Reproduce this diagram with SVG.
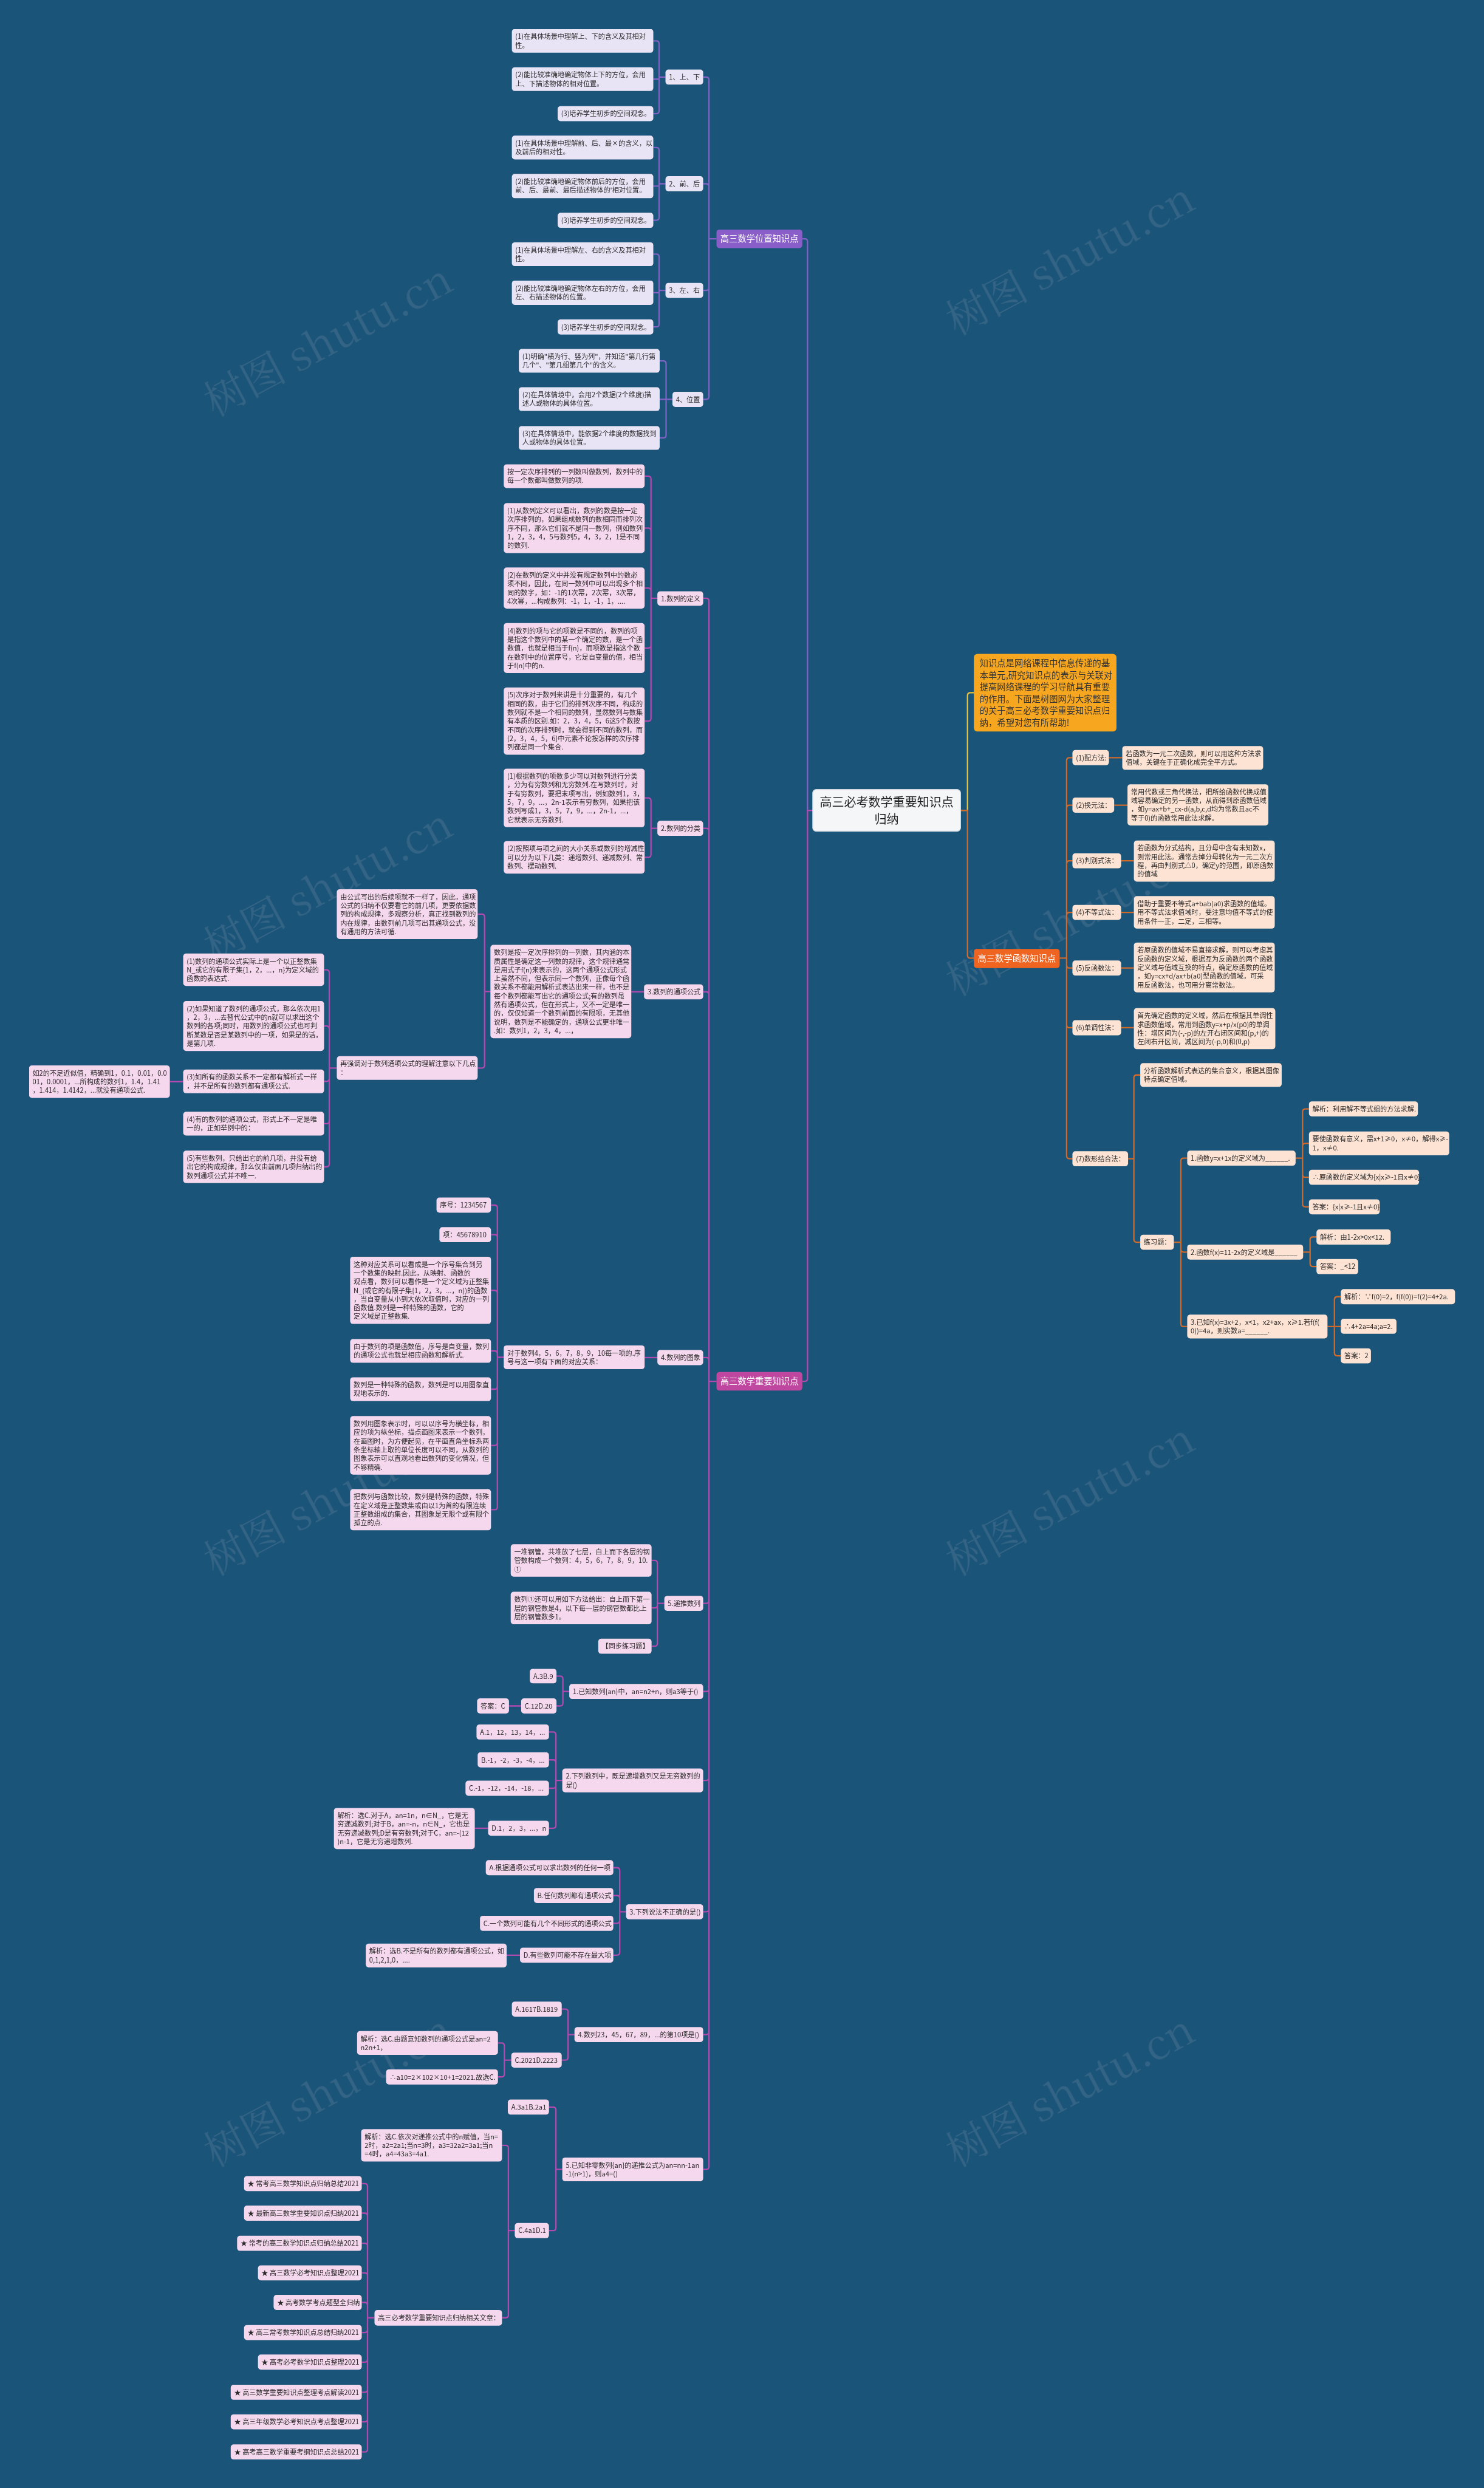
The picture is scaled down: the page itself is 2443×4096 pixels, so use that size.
<svg xmlns="http://www.w3.org/2000/svg" width="2443" height="4096" viewBox="0 0 2443 4096">
<style>
.t{font-family:"Noto Sans CJK SC","Noto Sans",sans-serif;font-size:11.7px;fill:#2a2a2a}
.lp{fill:#e8e3f5}
.lz{fill:#f6d8ee}
.lf{fill:#fde3d4}
.cp{fill:none;stroke:#7f63c4;stroke-width:2.4}
.cz{fill:none;stroke:#b04ab0;stroke-width:2.4}
.cf{fill:none;stroke:#cf6a2c;stroke-width:2.4}
.cy{fill:none;stroke:#e9c23a;stroke-width:2.4}
.bt{font-family:"Noto Sans CJK SC","Noto Sans",sans-serif;font-size:15px;fill:#ffffff;text-anchor:middle}
.wm{font-family:"Noto Serif CJK SC","Noto Sans CJK SC","DejaVu Serif",serif;font-size:72px;fill:#b8bcc4}
</style>
<rect x="0" y="0" width="2443" height="4096" fill="#1b5479"/>
<g transform="scale(0.9543)">
<g id="watermark" opacity="0.16">
<text class="wm" transform="translate(370 720) rotate(-28)">树图 shutu.cn</text>
<text class="wm" transform="translate(1650 580) rotate(-28)">树图 shutu.cn</text>
<text class="wm" transform="translate(370 1660) rotate(-28)">树图 shutu.cn</text>
<text class="wm" transform="translate(1650 1720) rotate(-28)">树图 shutu.cn</text>
<text class="wm" transform="translate(370 2720) rotate(-28)">树图 shutu.cn</text>
<text class="wm" transform="translate(1650 2720) rotate(-28)">树图 shutu.cn</text>
<text class="wm" transform="translate(370 3740) rotate(-28)">树图 shutu.cn</text>
<text class="wm" transform="translate(1650 3740) rotate(-28)">树图 shutu.cn</text>
</g>
<g id="connectors">
<path class="cp" d="M1148 133H1137M1137 133V75.5Q1137 70.5 1132 70.5H1127M1137 133V136.5H1127M1137 133V191Q1137 196 1132 196H1127"/>
<path class="cp" d="M1148 317H1137M1137 317V259.5Q1137 254.5 1132 254.5H1127M1137 317V321H1127M1137 317V375Q1137 380 1132 380H1127"/>
<path class="cp" d="M1148 501H1137M1137 501V443.5Q1137 438.5 1132 438.5H1127M1137 501V505H1127M1137 501V559Q1137 564 1132 564H1127"/>
<path class="cp" d="M1160 689H1149M1149 689V627.5Q1149 622.5 1144 622.5H1138M1149 689H1138M1149 689V750.5Q1149 755.5 1144 755.5H1138"/>
<path class="cp" d="M1236 412H1223M1223 412V138Q1223 133 1218 133H1213M1223 412V322Q1223 317 1218 317H1213M1223 412V496Q1223 501 1218 501H1213M1223 412V684Q1223 689 1218 689H1213"/>
<path class="cp" d="M1402 1398H1393V417Q1393 412 1388 412H1384"/>
<path class="cz" d="M1402 1398H1393V2378Q1393 2383 1388 2383H1384"/>
<path class="cz" d="M1236 2383H1223M1223 2383V1037Q1223 1032 1218 1032H1213M1223 2383V1434Q1223 1429 1218 1429H1213M1223 2383V1716Q1223 1711 1218 1711H1213M1223 2383V2347Q1223 2342 1218 2342H1213M1223 2383V2761Q1223 2766 1218 2766H1213M1223 2383V2913Q1223 2918 1218 2918H1213M1223 2383V3066.5Q1223 3071.5 1218 3071.5H1213M1223 2383V3293Q1223 3298 1218 3298H1213M1223 2383V3505Q1223 3510 1218 3510H1213M1223 2383V3737.5Q1223 3742.5 1218 3742.5H1213"/>
<path class="cz" d="M1134 1032H1123M1123 1032V826.5Q1123 821.5 1118 821.5H1112M1123 1032V916Q1123 911 1118 911H1112M1123 1032V1019.5Q1123 1014.5 1118 1014.5H1112M1123 1032V1113Q1123 1118 1118 1118H1112M1123 1032V1239Q1123 1244 1118 1244H1112"/>
<path class="cz" d="M1134 1429H1123M1123 1429V1381.5Q1123 1376.5 1118 1376.5H1112M1123 1429V1474Q1123 1479 1118 1479H1112"/>
<path class="cz" d="M1111 1711H1089"/>
<path class="cz" d="M846 1710.5H836M836 1710.5V1582Q836 1577 831 1577H824M836 1710.5V1837.5Q836 1842.5 831 1842.5H824"/>
<path class="cz" d="M581 1842.5H568M568 1842.5V1678Q568 1673 563 1673H559M568 1842.5V1775Q568 1770 563 1770H559M568 1842.5V1860.5Q568 1865.5 563 1865.5H559M568 1842.5V1933.5Q568 1938.5 563 1938.5H559M568 1842.5V2008Q568 2013 563 2013H559"/>
<path class="cz" d="M316 1866H293"/>
<path class="cz" d="M1134 2342H1112"/>
<path class="cz" d="M869 2341.5H858M858 2341.5V2084Q858 2079 853 2079H847M858 2341.5V2135Q858 2130 853 2130H847M858 2341.5V2231Q858 2226 853 2226H847M858 2341.5V2335.5Q858 2330.5 853 2330.5H847M858 2341.5V2391.5Q858 2396.5 853 2396.5H847M858 2341.5V2488.5Q858 2493.5 853 2493.5H847M858 2341.5V2599.5Q858 2604.5 853 2604.5H847"/>
<path class="cz" d="M1146 2766H1134M1134 2766V2697Q1134 2692 1129 2692H1124M1134 2766V2769Q1134 2774 1129 2774H1124M1134 2766V2835Q1134 2840 1129 2840H1124"/>
<path class="cz" d="M982 2918H971M971 2918V2896.5Q971 2891.5 966 2891.5H960M971 2918V2938Q971 2943 966 2943H960M899 2943H878"/>
<path class="cz" d="M970 3071.5H959M959 3071.5V2993Q959 2988 954 2988H947M959 3071.5V3041Q959 3036 954 3036H947M959 3071.5V3080Q959 3085 954 3085H947M959 3071.5V3149Q959 3154 954 3154H947M842 3154H819"/>
<path class="cz" d="M1080 3298H1069M1069 3298V3227Q1069 3222 1064 3222H1058M1069 3298V3275Q1069 3270 1064 3270H1058M1069 3298V3313Q1069 3318 1064 3318H1058M1069 3298V3368Q1069 3373 1064 3373H1058M897 3373H874"/>
<path class="cz" d="M991 3510H980M980 3510V3471Q980 3466 975 3466H969M980 3510V3549Q980 3554 975 3554H969M882 3554H870M870 3554V3529.5Q870 3524.5 865 3524.5H859M870 3554V3578Q870 3583 865 3583H859"/>
<path class="cz" d="M970 3742.5H959M959 3742.5V3640Q959 3635 954 3635H947M959 3742.5V3843Q959 3848 954 3848H947M888 3848H877M877 3848V3706Q877 3701 872 3701H866M877 3848V3993.5Q877 3998.5 872 3998.5H866"/>
<path class="cz" d="M646 3998.5H634M634 3998.5V3772Q634 3767 629 3767H624M634 3998.5V3823Q634 3818 629 3818H624M634 3998.5V3875Q634 3870 629 3870H624M634 3998.5V3926Q634 3921 629 3921H624M634 3998.5V3977Q634 3972 629 3972H624M634 3998.5V4019Q634 4024 629 4024H624M634 3998.5V4070Q634 4075 629 4075H624M634 3998.5V4122Q634 4127 629 4127H624M634 3998.5V4173Q634 4178 629 4178H624M634 3998.5V4225Q634 4230 629 4230H624"/>
<path class="cy" d="M1657 1398H1669V1200Q1669 1195 1674 1195H1680"/>
<path class="cf" d="M1657 1398H1669V1648Q1669 1653 1674 1653H1680"/>
<path class="cf" d="M1828 1653H1840M1840 1653V1312Q1840 1307 1845 1307H1850M1840 1653V1394Q1840 1389 1845 1389H1850M1840 1653V1490Q1840 1485 1845 1485H1850M1840 1653V1579Q1840 1574 1845 1574H1850M1840 1653V1665Q1840 1670 1845 1670H1850M1840 1653V1768Q1840 1773 1845 1773H1850M1840 1653V1994Q1840 1999 1845 1999H1850"/>
<path class="cf" d="M1913 1307H1936M1922 1389H1945M1934 1485H1956M1934 1574H1956M1934 1670H1956M1934 1773H1956"/>
<path class="cf" d="M1946 1999H1956M1956 1999V1859.5Q1956 1854.5 1961 1854.5H1967M1956 1999V2138Q1956 2143 1961 2143H1967"/>
<path class="cf" d="M2025 2143H2037M2037 2143V2003Q2037 1998 2042 1998H2048M2037 2143V2155Q2037 2160 2042 2160H2048M2037 2143V2283.5Q2037 2288.5 2042 2288.5H2048"/>
<path class="cf" d="M2235 1998H2247M2247 1998V1918Q2247 1913 2252 1913H2258M2247 1998V1977.5Q2247 1972.5 2252 1972.5H2258M2247 1998V2026Q2247 2031 2252 2031H2258M2247 1998V2077Q2247 2082 2252 2082H2258"/>
<path class="cf" d="M2248 2160H2260M2260 2160V2139Q2260 2134 2265 2134H2271M2260 2160V2180Q2260 2185 2265 2185H2271"/>
<path class="cf" d="M2290 2288.5H2302M2302 2288.5V2242Q2302 2237 2307 2237H2313M2302 2288.5H2313M2302 2288.5V2334Q2302 2339 2307 2339H2313"/>
</g>
<g id="center"><rect x="1402" y="1362" width="255" height="72" rx="6" fill="#f4f6f8" stroke="#cfd8e0" stroke-width="1.5"/><text x="1529.5" y="1392" text-anchor="middle" style="font-family:'Noto Sans CJK SC','Noto Sans',sans-serif;font-size:21px;fill:#222"><tspan x="1529.5">高三必考数学重要知识点</tspan><tspan x="1529.5" dy="29">归纳</tspan></text></g>
<g id="branch-position"><rect x="1236" y="396" width="148" height="32" rx="5" fill="#8a5ec8"/><text class="bt" x="1310" y="417.5">高三数学位置知识点</text></g>
<g id="branch-important"><rect x="1236" y="2367" width="148" height="32" rx="5" fill="#c0479f"/><text class="bt" x="1310" y="2388.5">高三数学重要知识点</text></g>
<g id="branch-function"><rect x="1680" y="1637" width="148" height="33" rx="5" fill="#ef6421"/><text class="bt" x="1754" y="1659">高三数学函数知识点</text></g>
<g id="intro"><rect x="1680" y="1128" width="246" height="134" rx="6" fill="#f7a71f"/><text x="1690" y="1150" style="font-family:'Noto Sans CJK SC','Noto Sans',sans-serif;font-size:15px;fill:#333"><tspan x="1690">知识点是网络课程中信息传递的基</tspan><tspan x="1690" dy="20.4">本单元,研究知识点的表示与关联对</tspan><tspan x="1690" dy="20.4">提高网络课程的学习导航具有重要</tspan><tspan x="1690" dy="20.4">的作用。下面是树图网为大家整理</tspan><tspan x="1690" dy="20.4">的关于高三必考数学重要知识点归</tspan><tspan x="1690" dy="20.4">纳，希望对您有所帮助!</tspan></text></g>

<g id="p1"><rect class="lp" x="1148" y="120" width="65" height="26" rx="5"/><text class="t" x="1154" y="137.5">1、上、下</text></g>
<g id="p1a"><rect class="lp" x="883" y="50" width="244" height="41" rx="5"/><text class="t" x="889" y="67.5"><tspan x="889">(1)在具体场景中理解上、下的含义及其相对</tspan><tspan x="889" dy="15">性。</tspan></text></g>
<g id="p1b"><rect class="lp" x="883" y="116" width="244" height="41" rx="5"/><text class="t" x="889" y="133.5"><tspan x="889">(2)能比较准确地确定物体上下的方位，会用</tspan><tspan x="889" dy="15">上、下描述物体的相对位置。</tspan></text></g>
<g id="p1c"><rect class="lp" x="962" y="183" width="165" height="26" rx="5"/><text class="t" x="968" y="200.5">(3)培养学生初步的空间观念。</text></g>
<g id="p2"><rect class="lp" x="1148" y="304" width="65" height="26" rx="5"/><text class="t" x="1154" y="321.5">2、前、后</text></g>
<g id="p2a"><rect class="lp" x="883" y="234" width="244" height="41" rx="5"/><text class="t" x="889" y="251.5"><tspan x="889">(1)在具体场景中理解前、后、最×的含义，以</tspan><tspan x="889" dy="15">及前后的相对性。</tspan></text></g>
<g id="p2b"><rect class="lp" x="883" y="300" width="244" height="42" rx="5"/><text class="t" x="889" y="317.5"><tspan x="889">(2)能比较准确地确定物体前后的方位，会用</tspan><tspan x="889" dy="15">前、后、最前、最后描述物体的'相对位置。</tspan></text></g>
<g id="p2c"><rect class="lp" x="962" y="367" width="165" height="26" rx="5"/><text class="t" x="968" y="384.5">(3)培养学生初步的空间观念。</text></g>
<g id="p3"><rect class="lp" x="1148" y="488" width="65" height="26" rx="5"/><text class="t" x="1154" y="505.5">3、左、右</text></g>
<g id="p3a"><rect class="lp" x="883" y="418" width="244" height="41" rx="5"/><text class="t" x="889" y="435.5"><tspan x="889">(1)在具体场景中理解左、右的含义及其相对</tspan><tspan x="889" dy="15">性。</tspan></text></g>
<g id="p3b"><rect class="lp" x="883" y="484" width="244" height="42" rx="5"/><text class="t" x="889" y="501.5"><tspan x="889">(2)能比较准确地确定物体左右的方位，会用</tspan><tspan x="889" dy="15">左、右描述物体的位置。</tspan></text></g>
<g id="p3c"><rect class="lp" x="962" y="551" width="165" height="26" rx="5"/><text class="t" x="968" y="568.5">(3)培养学生初步的空间观念。</text></g>
<g id="p4"><rect class="lp" x="1160" y="676" width="53" height="26" rx="5"/><text class="t" x="1166" y="693.5">4、位置</text></g>
<g id="p4a"><rect class="lp" x="895" y="602" width="243" height="41" rx="5"/><text class="t" x="901" y="619.5"><tspan x="901">(1)明确"横为行、竖为列"，并知道"第几行第</tspan><tspan x="901" dy="15">几个"、"第几组第几个"的含义。</tspan></text></g>
<g id="p4b"><rect class="lp" x="895" y="668" width="243" height="41" rx="5"/><text class="t" x="901" y="685.5"><tspan x="901">(2)在具体情境中，会用2个数据(2个维度)描</tspan><tspan x="901" dy="15">述人或物体的具体位置。</tspan></text></g>
<g id="p4c"><rect class="lp" x="895" y="735" width="243" height="41" rx="5"/><text class="t" x="901" y="752.5"><tspan x="901">(3)在具体情境中，能依据2个维度的数据找到</tspan><tspan x="901" dy="15">人或物体的具体位置。</tspan></text></g>

<g id="z1"><rect class="lz" x="1134" y="1020" width="79" height="25" rx="5"/><text class="t" x="1140" y="1037">1.数列的定义</text></g>
<g id="z1a"><rect class="lz" x="869" y="801" width="243" height="41" rx="5"/><text class="t" x="875" y="818.5"><tspan x="875">按一定次序排列的一列数叫做数列，数列中的</tspan><tspan x="875" dy="15">每一个数都叫做数列的项.</tspan></text></g>
<g id="z1b"><rect class="lz" x="869" y="868" width="243" height="86" rx="5"/><text class="t" x="875" y="885.5"><tspan x="875">(1)从数列定义可以看出，数列的数是按一定</tspan><tspan x="875" dy="15">次序排列的，如果组成数列的数相同而排列次</tspan><tspan x="875" dy="15">序不同，那么它们就不是同一数列，例如数列</tspan><tspan x="875" dy="15">1，2，3，4，5与数列5，4，3，2，1是不同</tspan><tspan x="875" dy="15">的数列.</tspan></text></g>
<g id="z1c"><rect class="lz" x="869" y="979" width="243" height="71" rx="5"/><text class="t" x="875" y="996.5"><tspan x="875">(2)在数列的定义中并没有规定数列中的数必</tspan><tspan x="875" dy="15">须不同，因此，在同一数列中可以出现多个相</tspan><tspan x="875" dy="15">同的数字，如：-1的1次幂，2次幂，3次幂，</tspan><tspan x="875" dy="15">4次幂，...构成数列：-1，1，-1，1，....</tspan></text></g>
<g id="z1d"><rect class="lz" x="869" y="1075" width="243" height="86" rx="5"/><text class="t" x="875" y="1092.5"><tspan x="875">(4)数列的项与它的项数是不同的，数列的项</tspan><tspan x="875" dy="15">是指这个数列中的某一个确定的数，是一个函</tspan><tspan x="875" dy="15">数值，也就是相当于f(n)，而项数是指这个数</tspan><tspan x="875" dy="15">在数列中的位置序号，它是自变量的值，相当</tspan><tspan x="875" dy="15">于f(n)中的n.</tspan></text></g>
<g id="z1e"><rect class="lz" x="869" y="1186" width="243" height="116" rx="5"/><text class="t" x="875" y="1203.5"><tspan x="875">(5)次序对于数列来讲是十分重要的，有几个</tspan><tspan x="875" dy="15">相同的数，由于它们的排列次序不同，构成的</tspan><tspan x="875" dy="15">数列就不是一个相同的数列，显然数列与数集</tspan><tspan x="875" dy="15">有本质的区别.如：2，3，4，5，6这5个数按</tspan><tspan x="875" dy="15">不同的次序排列时，就会得到不同的数列，而</tspan><tspan x="875" dy="15">{2，3，4，5，6}中元素不论按怎样的次序排</tspan><tspan x="875" dy="15">列都是同一个集合.</tspan></text></g>

<g id="z2"><rect class="lz" x="1134" y="1416" width="79" height="26" rx="5"/><text class="t" x="1140" y="1433.5">2.数列的分类</text></g>
<g id="z2a"><rect class="lz" x="869" y="1326" width="243" height="101" rx="5"/><text class="t" x="875" y="1343.5"><tspan x="875">(1)根据数列的项数多少可以对数列进行分类</tspan><tspan x="875" dy="15">，分为有穷数列和无穷数列.在写数列时，对</tspan><tspan x="875" dy="15">于有穷数列，要把末项写出，例如数列1，3，</tspan><tspan x="875" dy="15">5，7，9，...，2n-1表示有穷数列，如果把该</tspan><tspan x="875" dy="15">数列写成1，3，5，7，9，...，2n-1，...，</tspan><tspan x="875" dy="15">它就表示无穷数列.</tspan></text></g>
<g id="z2b"><rect class="lz" x="869" y="1451" width="243" height="56" rx="5"/><text class="t" x="875" y="1468.5"><tspan x="875">(2)按照项与项之间的大小关系或数列的增减性</tspan><tspan x="875" dy="15">可以分为以下几类：递增数列、递减数列、常</tspan><tspan x="875" dy="15">数列、摆动数列.</tspan></text></g>

<g id="z3"><rect class="lz" x="1111" y="1698" width="102" height="26" rx="5"/><text class="t" x="1117" y="1715.5">3.数列的通项公式</text></g>
<g id="z3a"><rect class="lz" x="846" y="1630" width="243" height="161" rx="5"/><text class="t" x="852" y="1647.5"><tspan x="852">数列是按一定次序排列的一列数，其内涵的本</tspan><tspan x="852" dy="15">质属性是确定这一列数的规律，这个规律通常</tspan><tspan x="852" dy="15">是用式子f(n)来表示的，这两个通项公式形式</tspan><tspan x="852" dy="15">上虽然不同，但表示同一个数列，正像每个函</tspan><tspan x="852" dy="15">数关系不都能用解析式表达出来一样，也不是</tspan><tspan x="852" dy="15">每个数列都能写出它的通项公式;有的数列虽</tspan><tspan x="852" dy="15">然有通项公式，但在形式上，又不一定是唯一</tspan><tspan x="852" dy="15">的，仅仅知道一个数列前面的有限项，无其他</tspan><tspan x="852" dy="15">说明，数列是不能确定的，通项公式更非唯一</tspan><tspan x="852" dy="15">.如：数列1，2，3，4，...，</tspan></text></g>
<g id="z3b"><rect class="lz" x="581" y="1534" width="243" height="86" rx="5"/><text class="t" x="587" y="1551.5"><tspan x="587">由公式写出的后续项就不一样了，因此，通项</tspan><tspan x="587" dy="15">公式的归纳不仅要看它的前几项，更要依据数</tspan><tspan x="587" dy="15">列的构成规律，多观察分析，真正找到数列的</tspan><tspan x="587" dy="15">内在规律，由数列前几项写出其通项公式，没</tspan><tspan x="587" dy="15">有通用的方法可循.</tspan></text></g>
<g id="z3c"><rect class="lz" x="581" y="1822" width="243" height="41" rx="5"/><text class="t" x="587" y="1839.5"><tspan x="587">再强调对于数列通项公式的理解注意以下几点</tspan><tspan x="587" dy="15">：</tspan></text></g>
<g id="t1"><rect class="lz" x="316" y="1645" width="243" height="56" rx="5"/><text class="t" x="322" y="1662.5"><tspan x="322">(1)数列的通项公式实际上是一个以正整数集</tspan><tspan x="322" dy="15">N_或它的有限子集{1，2，...，n}为定义域的</tspan><tspan x="322" dy="15">函数的表达式.</tspan></text></g>
<g id="t2"><rect class="lz" x="316" y="1727" width="243" height="86" rx="5"/><text class="t" x="322" y="1744.5"><tspan x="322">(2)如果知道了数列的通项公式，那么依次用1</tspan><tspan x="322" dy="15">，2，3，...去替代公式中的n就可以求出这个</tspan><tspan x="322" dy="15">数列的各项;同时，用数列的通项公式也可判</tspan><tspan x="322" dy="15">断某数是否是某数列中的一项，如果是的话，</tspan><tspan x="322" dy="15">是第几项.</tspan></text></g>
<g id="t3"><rect class="lz" x="316" y="1845" width="243" height="41" rx="5"/><text class="t" x="322" y="1862.5"><tspan x="322">(3)如所有的函数关系不一定都有解析式一样</tspan><tspan x="322" dy="15">，并不是所有的数列都有通项公式.</tspan></text></g>
<g id="t3a"><rect class="lz" x="50" y="1838" width="243" height="56" rx="5"/><text class="t" x="56" y="1855.5"><tspan x="56">如2的不足近似值，精确到1，0.1，0.01，0.0</tspan><tspan x="56" dy="15">01，0.0001，...所构成的数列1，1.4，1.41</tspan><tspan x="56" dy="15">，1.414，1.4142，...就没有通项公式.</tspan></text></g>
<g id="t4"><rect class="lz" x="316" y="1918" width="243" height="41" rx="5"/><text class="t" x="322" y="1935.5"><tspan x="322">(4)有的数列的通项公式，形式上不一定是唯</tspan><tspan x="322" dy="15">一的，正如举例中的：</tspan></text></g>
<g id="t5"><rect class="lz" x="316" y="1985" width="243" height="56" rx="5"/><text class="t" x="322" y="2002.5"><tspan x="322">(5)有些数列，只给出它的前几项，并没有给</tspan><tspan x="322" dy="15">出它的构成规律，那么仅由前面几项归纳出的</tspan><tspan x="322" dy="15">数列通项公式并不唯一.</tspan></text></g>

<g id="z4"><rect class="lz" x="1134" y="2329" width="79" height="26" rx="5"/><text class="t" x="1140" y="2346.5">4.数列的图象</text></g>
<g id="z4a"><rect class="lz" x="869" y="2321" width="243" height="41" rx="5"/><text class="t" x="875" y="2338.5"><tspan x="875">对于数列4，5，6，7，8，9，10每一项的.序</tspan><tspan x="875" dy="15">号与这一项有下面的对应关系：</tspan></text></g>
<g id="g1"><rect class="lz" x="753" y="2066" width="94" height="26" rx="5"/><text class="t" x="759" y="2083.5">序号：1234567</text></g>
<g id="g2"><rect class="lz" x="758" y="2117" width="89" height="26" rx="5"/><text class="t" x="764" y="2134.5">项：45678910</text></g>
<g id="g3"><rect class="lz" x="604" y="2168" width="243" height="116" rx="5"/><text class="t" x="610" y="2185.5"><tspan x="610">这种对应关系可以看成是一个序号集合到另</tspan><tspan x="610" dy="15">一个数集的映射.因此，从映射、函数的</tspan><tspan x="610" dy="15">观点看，数列可以看作是一个定义域为正整集</tspan><tspan x="610" dy="15">N_(或它的有限子集{1，2，3，...，n})的函数</tspan><tspan x="610" dy="15">，当自变量从小到大依次取值时，对应的一列</tspan><tspan x="610" dy="15">函数值.数列是一种特殊的函数，它的</tspan><tspan x="610" dy="15">定义域是正整数集.</tspan></text></g>
<g id="g4"><rect class="lz" x="604" y="2310" width="243" height="41" rx="5"/><text class="t" x="610" y="2327.5"><tspan x="610">由于数列的项是函数值，序号是自变量，数列</tspan><tspan x="610" dy="15">的通项公式也就是相应函数和解析式.</tspan></text></g>
<g id="g5"><rect class="lz" x="604" y="2376" width="243" height="41" rx="5"/><text class="t" x="610" y="2393.5"><tspan x="610">数列是一种特殊的函数，数列是可以用图象直</tspan><tspan x="610" dy="15">观地表示的.</tspan></text></g>
<g id="g6"><rect class="lz" x="604" y="2443" width="243" height="101" rx="5"/><text class="t" x="610" y="2460.5"><tspan x="610">数列用图象表示时，可以以序号为横坐标，相</tspan><tspan x="610" dy="15">应的项为纵坐标，描点画图来表示一个数列，</tspan><tspan x="610" dy="15">在画图时，为方便起见，在平面直角坐标系两</tspan><tspan x="610" dy="15">条坐标轴上取的单位长度可以不同，从数列的</tspan><tspan x="610" dy="15">图象表示可以直观地看出数列的变化情况，但</tspan><tspan x="610" dy="15">不够精确.</tspan></text></g>
<g id="g7"><rect class="lz" x="604" y="2569" width="243" height="71" rx="5"/><text class="t" x="610" y="2586.5"><tspan x="610">把数列与函数比较，数列是特殊的函数，特殊</tspan><tspan x="610" dy="15">在定义域是正整数集或由以1为首的有限连续</tspan><tspan x="610" dy="15">正整数组成的集合，其图象是无限个或有限个</tspan><tspan x="610" dy="15">孤立的点.</tspan></text></g>

<g id="z5"><rect class="lz" x="1146" y="2753" width="67" height="26" rx="5"/><text class="t" x="1152" y="2770.5">5.递推数列</text></g>
<g id="r1"><rect class="lz" x="881" y="2664" width="243" height="56" rx="5"/><text class="t" x="887" y="2681.5"><tspan x="887">一堆钢管，共堆放了七层，自上而下各层的钢</tspan><tspan x="887" dy="15">管数构成一个数列：4，5，6，7，8，9，10.</tspan><tspan x="887" dy="15">①</tspan></text></g>
<g id="r2"><rect class="lz" x="881" y="2746" width="243" height="56" rx="5"/><text class="t" x="887" y="2763.5"><tspan x="887">数列①还可以用如下方法给出：自上而下第一</tspan><tspan x="887" dy="15">层的钢管数是4，以下每一层的钢管数都比上</tspan><tspan x="887" dy="15">层的钢管数多1。</tspan></text></g>
<g id="r3"><rect class="lz" x="1032" y="2827" width="92" height="26" rx="5"/><text class="t" x="1038" y="2844.5">【同步练习题】</text></g>

<g id="q1"><rect class="lz" x="982" y="2905" width="231" height="26" rx="5"/><text class="t" x="988" y="2922.5">1.已知数列{an}中，an=n2+n，则a3等于()</text></g>
<g id="q1a"><rect class="lz" x="914" y="2879" width="46" height="25" rx="5"/><text class="t" x="920" y="2896">A.3B.9</text></g>
<g id="q1b"><rect class="lz" x="899" y="2930" width="61" height="26" rx="5"/><text class="t" x="905" y="2947.5">C.12D.20</text></g>
<g id="q1c"><rect class="lz" x="823" y="2930" width="55" height="26" rx="5"/><text class="t" x="829" y="2947.5">答案：C</text></g>

<g id="q2"><rect class="lz" x="970" y="3051" width="243" height="41" rx="5"/><text class="t" x="976" y="3068.5"><tspan x="976">2.下列数列中，既是递增数列又是无穷数列的</tspan><tspan x="976" dy="15">是()</tspan></text></g>
<g id="q2a"><rect class="lz" x="822" y="2975" width="125" height="26" rx="5"/><text class="t" x="828" y="2992.5">A.1，12，13，14，...</text></g>
<g id="q2b"><rect class="lz" x="824" y="3023" width="123" height="26" rx="5"/><text class="t" x="830" y="3040.5">B.-1，-2，-3，-4，...</text></g>
<g id="q2c"><rect class="lz" x="803" y="3072" width="144" height="26" rx="5"/><text class="t" x="809" y="3089.5">C.-1，-12，-14，-18，...</text></g>
<g id="q2d"><rect class="lz" x="842" y="3141" width="105" height="26" rx="5"/><text class="t" x="848" y="3158.5">D.1，2，3，...，n</text></g>
<g id="q2e"><rect class="lz" x="576" y="3119" width="243" height="71" rx="5"/><text class="t" x="582" y="3136.5"><tspan x="582">解析：选C.对于A，an=1n，n∈N_，它是无</tspan><tspan x="582" dy="15">穷递减数列;对于B，an=-n，n∈N_，它也是</tspan><tspan x="582" dy="15">无穷递减数列;D是有穷数列;对于C，an=-(12</tspan><tspan x="582" dy="15">)n-1，它是无穷递增数列.</tspan></text></g>

<g id="q3"><rect class="lz" x="1080" y="3285" width="133" height="26" rx="5"/><text class="t" x="1086" y="3302.5">3.下列说法不正确的是()</text></g>
<g id="q3a"><rect class="lz" x="838" y="3209" width="220" height="26" rx="5"/><text class="t" x="844" y="3226.5">A.根据通项公式可以求出数列的任何一项</text></g>
<g id="q3b"><rect class="lz" x="921" y="3257" width="137" height="26" rx="5"/><text class="t" x="927" y="3274.5">B.任何数列都有通项公式</text></g>
<g id="q3c"><rect class="lz" x="828" y="3305" width="230" height="26" rx="5"/><text class="t" x="834" y="3322.5">C.一个数列可能有几个不同形式的通项公式</text></g>
<g id="q3d"><rect class="lz" x="897" y="3360" width="161" height="26" rx="5"/><text class="t" x="903" y="3377.5">D.有些数列可能不存在最大项</text></g>
<g id="q3e"><rect class="lz" x="631" y="3353" width="243" height="41" rx="5"/><text class="t" x="637" y="3370.5"><tspan x="637">解析：选B.不是所有的数列都有通项公式，如</tspan><tspan x="637" dy="15">0,1,2,1,0，....</tspan></text></g>

<g id="q4"><rect class="lz" x="991" y="3497" width="222" height="26" rx="5"/><text class="t" x="997" y="3514.5">4.数列23，45，67，89，...的第10项是()</text></g>
<g id="q4a"><rect class="lz" x="883" y="3453" width="86" height="26" rx="5"/><text class="t" x="889" y="3470.5">A.1617B.1819</text></g>
<g id="q4b"><rect class="lz" x="882" y="3541" width="87" height="26" rx="5"/><text class="t" x="888" y="3558.5">C.2021D.2223</text></g>
<g id="q4c"><rect class="lz" x="616" y="3504" width="243" height="41" rx="5"/><text class="t" x="622" y="3521.5"><tspan x="622">解析：选C.由题意知数列的通项公式是an=2</tspan><tspan x="622" dy="15">n2n+1，</tspan></text></g>
<g id="q4d"><rect class="lz" x="666" y="3570" width="193" height="26" rx="5"/><text class="t" x="672" y="3587.5">∴a10=2×102×10+1=2021.故选C.</text></g>

<g id="q5"><rect class="lz" x="970" y="3722" width="243" height="41" rx="5"/><text class="t" x="976" y="3739.5"><tspan x="976">5.已知非零数列{an}的递推公式为an=nn-1an</tspan><tspan x="976" dy="15">-1(n&gt;1)，则a4=()</tspan></text></g>
<g id="q5a"><rect class="lz" x="876" y="3622" width="71" height="26" rx="5"/><text class="t" x="882" y="3639.5">A.3a1B.2a1</text></g>
<g id="q5b"><rect class="lz" x="888" y="3835" width="59" height="26" rx="5"/><text class="t" x="894" y="3852.5">C.4a1D.1</text></g>
<g id="q5c"><rect class="lz" x="623" y="3673" width="243" height="56" rx="5"/><text class="t" x="629" y="3690.5"><tspan x="629">解析：选C.依次对递推公式中的n赋值，当n=</tspan><tspan x="629" dy="15">2时，a2=2a1;当n=3时，a3=32a2=3a1;当n</tspan><tspan x="629" dy="15">=4时，a4=43a3=4a1.</tspan></text></g>

<g id="rel"><rect class="lz" x="646" y="3985" width="220" height="27" rx="5"/><text class="t" x="652" y="4003">高三必考数学重要知识点归纳相关文章：</text></g>
<g id="l1"><rect class="lz" x="421" y="3754" width="203" height="26" rx="5"/><text class="t" x="427" y="3771.5">★ 常考高三数学知识点归纳总结2021</text></g>
<g id="l2"><rect class="lz" x="421" y="3805" width="203" height="26" rx="5"/><text class="t" x="427" y="3822.5">★ 最新高三数学重要知识点归纳2021</text></g>
<g id="l3"><rect class="lz" x="409" y="3857" width="215" height="26" rx="5"/><text class="t" x="415" y="3874.5">★ 常考的高三数学知识点归纳总结2021</text></g>
<g id="l4"><rect class="lz" x="445" y="3908" width="179" height="26" rx="5"/><text class="t" x="451" y="3925.5">★ 高三数学必考知识点整理2021</text></g>
<g id="l5"><rect class="lz" x="472" y="3959" width="152" height="26" rx="5"/><text class="t" x="478" y="3976.5">★ 高考数学考点题型全归纳</text></g>
<g id="l6"><rect class="lz" x="421" y="4011" width="203" height="26" rx="5"/><text class="t" x="427" y="4028.5">★ 高三常考数学知识点总结归纳2021</text></g>
<g id="l7"><rect class="lz" x="445" y="4062" width="179" height="26" rx="5"/><text class="t" x="451" y="4079.5">★ 高考必考数学知识点整理2021</text></g>
<g id="l8"><rect class="lz" x="398" y="4114" width="226" height="26" rx="5"/><text class="t" x="404" y="4131.5">★ 高三数学重要知识点整理考点解读2021</text></g>
<g id="l9"><rect class="lz" x="398" y="4165" width="226" height="26" rx="5"/><text class="t" x="404" y="4182.5">★ 高三年级数学必考知识点考点整理2021</text></g>
<g id="l10"><rect class="lz" x="398" y="4217" width="226" height="26" rx="5"/><text class="t" x="404" y="4234.5">★ 高考高三数学重要考纲知识点总结2021</text></g>

<g id="f1"><rect class="lf" x="1850" y="1294" width="63" height="26" rx="5"/><text class="t" x="1856" y="1311.5">(1)配方法:</text></g>
<g id="f1a"><rect class="lf" x="1936" y="1287" width="243" height="41" rx="5"/><text class="t" x="1942" y="1304.5"><tspan x="1942">若函数为一元二次函数，则可以用这种方法求</tspan><tspan x="1942" dy="15">值域，关键在于正确化成完全平方式。</tspan></text></g>
<g id="f2"><rect class="lf" x="1850" y="1376" width="72" height="26" rx="5"/><text class="t" x="1856" y="1393.5">(2)换元法：</text></g>
<g id="f2a"><rect class="lf" x="1945" y="1353" width="243" height="71" rx="5"/><text class="t" x="1951" y="1370.5"><tspan x="1951">常用代数或三角代换法，把所给函数代换成值</tspan><tspan x="1951" dy="15">域容易确定的另一函数，从而得到原函数值域</tspan><tspan x="1951" dy="15">，如y=ax+b+_cx-d(a,b,c,d均为常数且ac不</tspan><tspan x="1951" dy="15">等于0)的函数常用此法求解。</tspan></text></g>
<g id="f3"><rect class="lf" x="1850" y="1472" width="84" height="26" rx="5"/><text class="t" x="1856" y="1489.5">(3)判别式法：</text></g>
<g id="f3a"><rect class="lf" x="1956" y="1450" width="243" height="71" rx="5"/><text class="t" x="1962" y="1467.5"><tspan x="1962">若函数为分式结构，且分母中含有未知数x，</tspan><tspan x="1962" dy="15">则常用此法。通常去掉分母转化为一元二次方</tspan><tspan x="1962" dy="15">程，再由判别式△0，确定y的范围，即原函数</tspan><tspan x="1962" dy="15">的值域</tspan></text></g>
<g id="f4"><rect class="lf" x="1850" y="1561" width="84" height="26" rx="5"/><text class="t" x="1856" y="1578.5">(4)不等式法：</text></g>
<g id="f4a"><rect class="lf" x="1956" y="1546" width="243" height="56" rx="5"/><text class="t" x="1962" y="1563.5"><tspan x="1962">借助于重要不等式a+bab(a0)求函数的值域。</tspan><tspan x="1962" dy="15">用不等式法求值域时，要注意均值不等式的使</tspan><tspan x="1962" dy="15">用条件一正，二定，三相等。</tspan></text></g>
<g id="f5"><rect class="lf" x="1850" y="1657" width="84" height="26" rx="5"/><text class="t" x="1856" y="1674.5">(5)反函数法：</text></g>
<g id="f5a"><rect class="lf" x="1956" y="1626" width="243" height="86" rx="5"/><text class="t" x="1962" y="1643.5"><tspan x="1962">若原函数的值域不易直接求解，则可以考虑其</tspan><tspan x="1962" dy="15">反函数的定义域，根据互为反函数的两个函数</tspan><tspan x="1962" dy="15">定义域与值域互换的特点，确定原函数的值域</tspan><tspan x="1962" dy="15">，如y=cx+d/ax+b(a0)型函数的值域，可采</tspan><tspan x="1962" dy="15">用反函数法，也可用分离常数法。</tspan></text></g>
<g id="f6"><rect class="lf" x="1850" y="1760" width="84" height="26" rx="5"/><text class="t" x="1856" y="1777.5">(6)单调性法：</text></g>
<g id="f6a"><rect class="lf" x="1956" y="1739" width="244" height="71" rx="5"/><text class="t" x="1962" y="1756.5"><tspan x="1962">首先确定函数的定义域，然后在根据其单调性</tspan><tspan x="1962" dy="15">求函数值域，常用到函数y=x+p/x(p0)的单调</tspan><tspan x="1962" dy="15">性：增区间为(-,-p)的左开右闭区间和(p,+)的</tspan><tspan x="1962" dy="15">左闭右开区间，减区间为(-p,0)和(0,p)</tspan></text></g>
<g id="f7"><rect class="lf" x="1850" y="1986" width="96" height="26" rx="5"/><text class="t" x="1856" y="2003.5">(7)数形结合法：</text></g>
<g id="f7a"><rect class="lf" x="1967" y="1834" width="244" height="41" rx="5"/><text class="t" x="1973" y="1851.5"><tspan x="1973">分析函数解析式表达的集合意义，根据其图像</tspan><tspan x="1973" dy="15">特点确定值域。</tspan></text></g>
<g id="f7b"><rect class="lf" x="1967" y="2130" width="58" height="26" rx="5"/><text class="t" x="1973" y="2147.5">练习题：</text></g>
<g id="e1"><rect class="lf" x="2048" y="1985" width="187" height="26" rx="5"/><text class="t" x="2054" y="2002.5">1.函数y=x+1x的定义域为______.</text></g>
<g id="e1a"><rect class="lf" x="2258" y="1900" width="188" height="26" rx="5"/><text class="t" x="2264" y="1917.5">解析：利用解不等式组的方法求解.</text></g>
<g id="e1b"><rect class="lf" x="2258" y="1952" width="242" height="41" rx="5"/><text class="t" x="2264" y="1969.5"><tspan x="2264">要使函数有意义，需x+1≥0，x≠0，解得x≥-</tspan><tspan x="2264" dy="15">1，x≠0.</tspan></text></g>
<g id="e1c"><rect class="lf" x="2258" y="2018" width="190" height="26" rx="5"/><text class="t" x="2264" y="2035.5">∴原函数的定义域为{x|x≥-1且x≠0}.</text></g>
<g id="e1d"><rect class="lf" x="2258" y="2069" width="122" height="26" rx="5"/><text class="t" x="2264" y="2086.5">答案：{x|x≥-1且x≠0}</text></g>
<g id="e2"><rect class="lf" x="2048" y="2147" width="200" height="26" rx="5"/><text class="t" x="2054" y="2164.5">2.函数f(x)=11-2x的定义域是______</text></g>
<g id="e2a"><rect class="lf" x="2271" y="2121" width="128" height="26" rx="5"/><text class="t" x="2277" y="2138.5">解析：由1-2x&gt;0x&lt;12.</text></g>
<g id="e2b"><rect class="lf" x="2271" y="2172" width="72" height="26" rx="5"/><text class="t" x="2277" y="2189.5">答案：_&lt;12</text></g>
<g id="e3"><rect class="lf" x="2048" y="2268" width="242" height="41" rx="5"/><text class="t" x="2054" y="2285.5"><tspan x="2054">3.已知f(x)=3x+2，x&lt;1，x2+ax，x≥1.若f(f(</tspan><tspan x="2054" dy="15">0))=4a，则实数a=______.</tspan></text></g>
<g id="e3a"><rect class="lf" x="2313" y="2224" width="197" height="26" rx="5"/><text class="t" x="2319" y="2241.5">解析：∵f(0)=2，f(f(0))=f(2)=4+2a.</text></g>
<g id="e3b"><rect class="lf" x="2313" y="2275" width="96" height="26" rx="5"/><text class="t" x="2319" y="2292.5">∴4+2a=4a;a=2.</text></g>
<g id="e3c"><rect class="lf" x="2313" y="2326" width="52" height="26" rx="5"/><text class="t" x="2319" y="2343.5">答案：2</text></g>
</g>
</svg>
